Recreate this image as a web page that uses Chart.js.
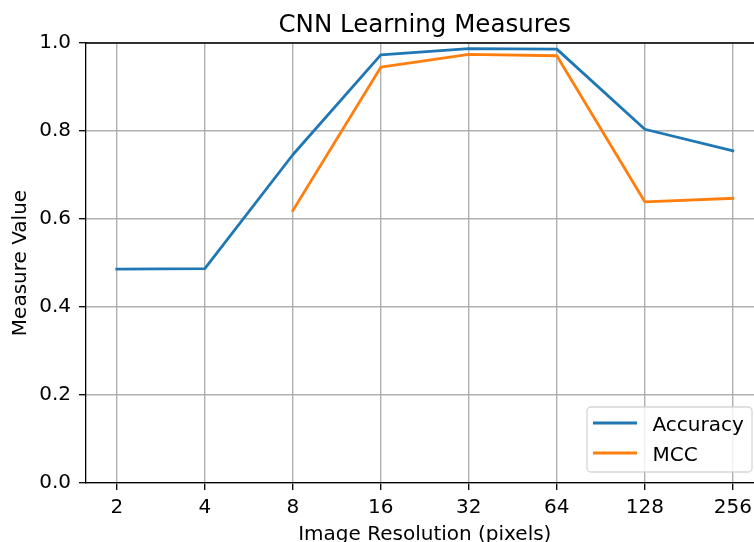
<!DOCTYPE html>
<html>
<head>
<meta charset="utf-8">
<script src="https://cdn.jsdelivr.net/npm/chart.js@4.4.1/dist/chart.umd.min.js"></script>
<style>
  html, body { margin: 0; padding: 0; background: #fff; overflow: hidden; width: 754px; height: 542px; }
  #wrap { position: relative; width: 780px; height: 542px; }
</style>
</head>
<body>
<div id="wrap"><canvas id="c" width="780" height="542"></canvas></div>
<script>
// Image resolution categories (pixels) and learning measures per resolution
const resolutions = ['2', '4', '8', '16', '32', '64', '128', '256'];
const accuracy = [0.486, 0.487, 0.746, 0.973, 0.987, 0.986, 0.804, 0.755];
const mcc = [null, null, 0.619, 0.945, 0.974, 0.971, 0.639, 0.647];
const yTicks = [0.0, 0.2, 0.4, 0.6, 0.8, 1.0];

const FONT = '"DejaVu Sans", "Liberation Sans", sans-serif';
const TICK_SIZE = 20;
const TITLE_SIZE = 24.5;

const toPoints = arr => arr.map((v, i) => ({ x: i, y: v }));

// Title, axis labels, top spine and legend drawn on top of the plot
const decorations = {
  id: 'decorations',
  afterDraw(chart) {
    const { ctx, chartArea: a } = chart;
    const cx = (a.left + a.right) / 2;
    ctx.save();
    // top spine
    ctx.strokeStyle = '#000';
    ctx.lineWidth = 1.3;
    ctx.beginPath();
    ctx.moveTo(a.left, a.top);
    ctx.lineTo(a.right, a.top);
    ctx.stroke();

    ctx.fillStyle = '#000';
    ctx.textBaseline = 'alphabetic';
    ctx.textAlign = 'center';
    ctx.font = `${TITLE_SIZE}px ${FONT}`;
    ctx.fillText('CNN Learning Measures', cx, a.top - 11);

    ctx.font = `${TICK_SIZE}px ${FONT}`;
    ctx.fillText('Image Resolution (pixels)', cx, 539.5);

    ctx.save();
    ctx.translate(25.5, (a.top + a.bottom) / 2);
    ctx.rotate(-Math.PI / 2);
    ctx.fillText('Measure Value', 0, 0);
    ctx.restore();

    // legend box
    const bx = 587, by = 407, bw = 165, bh = 65, r = 4;
    ctx.beginPath();
    ctx.moveTo(bx + r, by);
    ctx.arcTo(bx + bw, by, bx + bw, by + bh, r);
    ctx.arcTo(bx + bw, by + bh, bx, by + bh, r);
    ctx.arcTo(bx, by + bh, bx, by, r);
    ctx.arcTo(bx, by, bx + bw, by, r);
    ctx.closePath();
    ctx.fillStyle = 'rgba(255,255,255,0.8)';
    ctx.fill();
    ctx.strokeStyle = 'rgba(204,204,204,0.8)';
    ctx.lineWidth = 1.3;
    ctx.stroke();

    ctx.textAlign = 'left';
    chart.data.datasets.forEach((ds, i) => {
      const ly = 423 + i * 30;
      ctx.strokeStyle = ds.borderColor;
      ctx.lineWidth = ds.borderWidth;
      ctx.lineCap = 'butt';
      ctx.beginPath();
      ctx.moveTo(593, ly);
      ctx.lineTo(637, ly);
      ctx.stroke();
      ctx.fillStyle = '#000';
      ctx.fillText(ds.label, 652.5, ly + 7.5);
    });
    ctx.restore();
  }
};

new Chart(document.getElementById('c'), {
  type: 'line',
  data: {
    datasets: [
      {
        label: 'Accuracy',
        data: toPoints(accuracy),
        borderColor: '#1f77b4',
        borderWidth: 2.8,
        borderCapStyle: 'square',
        borderJoinStyle: 'round',
        pointRadius: 0,
        tension: 0,
        fill: false
      },
      {
        label: 'MCC',
        data: toPoints(mcc),
        borderColor: '#ff7f0e',
        borderWidth: 2.8,
        borderCapStyle: 'square',
        borderJoinStyle: 'round',
        pointRadius: 0,
        tension: 0,
        fill: false,
        spanGaps: false
      }
    ]
  },
  options: {
    responsive: false,
    animation: false,
    devicePixelRatio: 1,
    layout: { padding: { left: 0, right: 16.4, top: 43, bottom: 0 } },
    plugins: {
      legend: { display: false },
      title: { display: false },
      tooltip: { enabled: false }
    },
    scales: {
      x: {
        type: 'linear',
        min: -0.35,
        max: resolutions.length - 1 + 0.35,
        afterBuildTicks: s => { s.ticks = resolutions.map((_, i) => ({ value: i })); },
        afterFit: s => { s.height = 59; },
        ticks: {
          autoSkip: false,
          maxRotation: 0,
          padding: 6,
          color: '#000',
          font: { family: FONT, size: TICK_SIZE },
          callback: v => resolutions[v]
        },
        grid: { color: '#b0b0b0', lineWidth: 1.4, tickLength: 7, tickColor: '#000', tickWidth: 1.3 },
        border: { color: '#000', width: 1.3 }
      },
      y: {
        min: 0,
        max: 1,
        afterBuildTicks: s => { s.ticks = yTicks.map(v => ({ value: v })); },
        afterFit: s => { s.width = 86; },
        ticks: {
          padding: 8,
          color: '#000',
          font: { family: FONT, size: TICK_SIZE },
          callback: v => v.toFixed(1)
        },
        grid: { color: '#b0b0b0', lineWidth: 1.4, tickLength: 7, tickColor: '#000', tickWidth: 1.3 },
        border: { color: '#000', width: 1.3 }
      }
    }
  },
  plugins: [decorations]
});
</script>
</body>
</html>
